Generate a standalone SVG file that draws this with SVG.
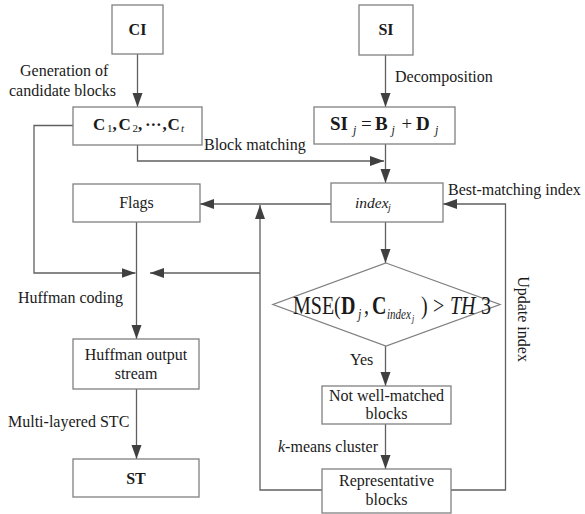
<svg xmlns="http://www.w3.org/2000/svg" width="585" height="514" viewBox="0 0 585 514">
  <defs>
    <marker id="arrow" markerUnits="userSpaceOnUse" markerWidth="15" markerHeight="11" refX="14" refY="5" orient="auto">
      <path d="M0,0 L14,5 L0,10 z" fill="#404040"/>
    </marker>
    <style>
      .box { fill: #ffffff; stroke: #808080; stroke-width: 1.3; }
      .conn { fill: none; stroke: #606060; stroke-width: 1.3; }
      .arr { marker-end: url(#arrow); }
      text { font-family: "Liberation Serif", "Times New Roman", serif; fill: #1a1a1a; }
      .lbl { font-size: 16px; }
      .node { font-size: 16px; text-anchor: middle; }
      .bold { font-weight: bold; }
      .sub { font-weight: normal; font-style: italic; }
    </style>
  </defs>
  <rect width="585" height="514" fill="#ffffff"/>

  <!-- connectors -->
  <g id="connectors">
    <path class="conn arr" d="M137.5,54 V107"/>
    <path class="conn arr" d="M385.5,55 V107"/>
    <path class="conn arr" d="M137.5,145 V161 H384"/>
    <path class="conn arr" d="M385.5,144 V183"/>
    <path class="conn arr" d="M331,204 H200"/>
    <path class="conn arr" d="M73,125.5 H34 V273 H135.5"/>
    <path class="conn arr" d="M136.5,222 V339"/>
    <path class="conn arr" d="M322,490 H260 V205"/>
    <path class="conn arr" d="M260,273 H150"/>
    <path class="conn arr" d="M136.5,389 V459"/>
    <path class="conn arr" d="M385.5,222 V263"/>
    <path class="conn arr" d="M385.5,346 V386"/>
    <path class="conn arr" d="M385.5,424 V469"/>
    <path class="conn arr" d="M451,490 H505.5 V204 H443"/>
  </g>

  <!-- edge labels -->
  <g id="labels">
    <text class="lbl" x="20" y="76">Generation of</text>
    <text class="lbl" x="9" y="96">candidate blocks</text>
    <text class="lbl" x="395" y="82">Decomposition</text>
    <text class="lbl" x="204" y="150">Block matching</text>
    <text class="lbl" x="448" y="195">Best-matching index</text>
    <text class="lbl" x="18" y="303">Huffman coding</text>
    <text class="lbl" x="8" y="427">Multi-layered STC</text>
    <text class="lbl" x="350" y="365">Yes</text>
    <text class="lbl" x="278" y="452"><tspan font-style="italic">k</tspan>-means cluster</text>
    <text class="lbl" transform="translate(518,319) rotate(90)" text-anchor="middle">Update index</text>
  </g>

  <g id="node-ci">
    <rect class="box" x="112" y="5" width="51" height="49"/>
    <text class="node bold" x="137.5" y="35">CI</text>
  </g>

  <g id="node-si">
    <rect class="box" x="359" y="5" width="54" height="50"/>
    <text class="node bold" x="386" y="35">SI</text>
  </g>

  <!-- C1, C2, ..., Ct with hand-placed glyph runs -->
  <g id="node-candidates">
    <rect class="box" x="73" y="107" width="129" height="38"/>
    <text font-size="17" font-weight="bold"><tspan x="93" y="130">C</tspan><tspan x="107" y="132" font-size="11" font-weight="normal">1</tspan><tspan x="112.5" y="130">,</tspan><tspan x="118.5" y="130">C</tspan><tspan x="132.5" y="132" font-size="11" font-weight="normal">2</tspan><tspan x="138" y="130">,</tspan><tspan x="145" y="130">·</tspan><tspan x="150.5" y="130">·</tspan><tspan x="156" y="130">·</tspan><tspan x="162.5" y="130">,</tspan><tspan x="167.5" y="130">C</tspan><tspan x="181" y="132" font-size="11" class="sub">t</tspan></text>
  </g>

  <g id="node-decomp">
    <rect class="box" x="314" y="107" width="141" height="37"/>
    <text font-size="19" font-weight="bold"><tspan x="330" y="130">SI</tspan><tspan x="353" y="134" font-size="12" class="sub">j</tspan><tspan x="361" y="130" font-weight="normal">=</tspan><tspan x="375" y="130">B</tspan><tspan x="391.5" y="134" font-size="12" class="sub">j</tspan><tspan x="401.5" y="130" font-weight="normal">+</tspan><tspan x="416" y="130">D</tspan><tspan x="435" y="134" font-size="12" class="sub">j</tspan></text>
  </g>

  <g id="node-flags">
    <rect class="box" x="73" y="184" width="127" height="38"/>
    <text class="node" x="136.5" y="208">Flags</text>
  </g>

  <g id="node-index">
    <rect class="box" x="331" y="183" width="112" height="39"/>
    <text font-size="15.5" font-style="italic"><tspan x="355" y="208">index</tspan><tspan x="388" y="211" font-size="10">j</tspan></text>
  </g>

  <!-- decision: the equation is drawn slightly stretched vertically -->
  <g id="node-mse">
    <polygon class="box" points="386,263 500,304.5 386,346 273,304.5"/>
    <text font-size="20" transform="translate(0,313.5) scale(1,1.25)"><tspan x="293" y="0">MSE(</tspan><tspan x="341" y="0" font-weight="bold">D</tspan><tspan x="358" y="4" font-size="12" font-style="italic">j</tspan><tspan x="364" y="0">,</tspan><tspan x="372" y="0" font-weight="bold">C</tspan><tspan x="387" y="4" font-size="11" font-style="italic">index</tspan><tspan x="412" y="6.5" font-size="8" font-style="italic">j</tspan><tspan x="421" y="0">)</tspan><tspan x="433" y="0">&gt;</tspan><tspan x="450" y="0" font-style="italic">TH</tspan><tspan x="481" y="0">3</tspan></text>
  </g>

  <g id="node-huffman">
    <rect class="box" x="73" y="339" width="126" height="50"/>
    <text class="node" x="136" y="360">Huffman output</text>
    <text class="node" x="136" y="379">stream</text>
  </g>

  <g id="node-notmatched">
    <rect class="box" x="322" y="386" width="129" height="38"/>
    <text class="node" x="386.5" y="401">Not well-matched</text>
    <text class="node" x="386.5" y="419">blocks</text>
  </g>

  <g id="node-st">
    <rect class="box" x="73" y="459" width="126" height="38"/>
    <text class="node bold" x="136" y="484">ST</text>
  </g>

  <g id="node-representative">
    <rect class="box" x="322" y="469" width="129" height="44"/>
    <text class="node" x="386.5" y="486">Representative</text>
    <text class="node" x="386.5" y="505">blocks</text>
  </g>
</svg>
